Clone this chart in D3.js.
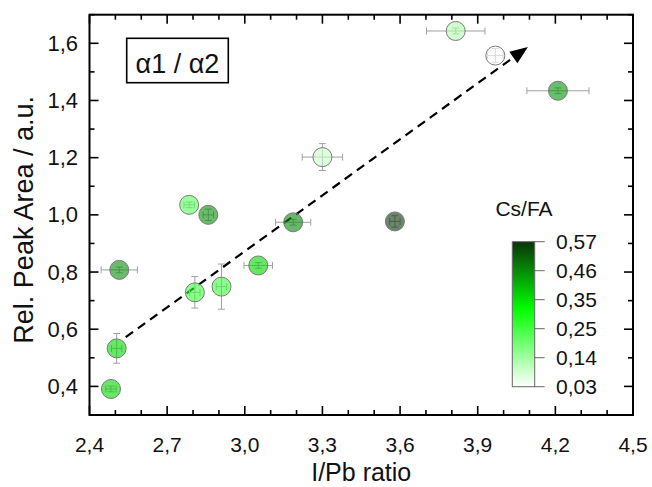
<!DOCTYPE html>
<html>
<head>
<meta charset="utf-8">
<script src="https://cdn.jsdelivr.net/npm/d3@7"></script>
<style>
  html, body { margin: 0; padding: 0; background: #fff; }
  svg { display: block; font-family: "Liberation Sans", Arial, sans-serif; }
</style>
</head>
<body>
<svg id="chart" width="652" height="487"></svg>
<script>
// ---- data ----
const iPb      = [3.815, 3.968, 4.21, 3.30, 2.785, 2.859, 3.187, 3.58, 2.515, 3.052, 2.807, 2.91, 2.505, 2.483];
const peakArea = [1.643, 1.557, 1.434, 1.202, 1.035, 1.00, 0.974, 0.977, 0.8075, 0.823, 0.729, 0.749, 0.533, 0.391];
const csFa     = [0.12, 0.03, 0.45, 0.09, 0.22, 0.46, 0.47, 0.57, 0.46, 0.37, 0.25, 0.25, 0.37, 0.37];
const xErr     = [0.113, 0.03, 0.12, 0.078, 0.02, 0.02, 0.068, 0.02, 0.07, 0.055, 0.02, 0.02, 0.02, 0.02];
const yErr     = [0.01, 0.025, 0.01, 0.047, 0.01, 0.02, 0.01, 0.02, 0.01, 0.01, 0.055, 0.079, 0.052, 0.01];
const xTicks   = [2.4, 2.7, 3.0, 3.3, 3.6, 3.9, 4.2, 4.5];
const yTicks   = [0.4, 0.6, 0.8, 1.0, 1.2, 1.4, 1.6];
const cbTicks  = [0.03, 0.138, 0.246, 0.354, 0.462, 0.57];
const arrowPts = [[2.54, 0.572], [4.094, 1.587]];
const labelText = "α1 / α2";

// ---- layout ----
const svg = d3.select("#chart");
const L = 89.5, R = 633, T = 14.7, B = 415;
const x = d3.scaleLinear().domain([2.4, 4.5]).range([L, R]);
const y = d3.scaleLinear().domain([0.3, 1.7]).range([B, T]);
const color = d3.scaleLinear().domain([0.03, 0.32, 0.57]).range(["#ffffff", "#00ff00", "#0a330a"]);
const fmt = v => d3.format(".1f")(v).replace(".", ",");
const fmt2 = v => d3.format(".2f")(v).replace(".", ",");

const xMinor = d3.range(24, 46).map(v => v / 10);
const yMinor = d3.range(3, 18).map(v => v / 10);

// ticks (inward, all four sides)
const tk = svg.append("g").attr("stroke", "#000").attr("stroke-width", 1.6);
const isMajX = v => xTicks.some(t => Math.abs(t - v) < 1e-6);
const isMajY = v => yTicks.some(t => Math.abs(t - v) < 1e-6);
xMinor.forEach(v => {
  const len = isMajX(v) ? 9 : 5;
  tk.append("line").attr("x1", x(v)).attr("x2", x(v)).attr("y1", B).attr("y2", B - len);
  tk.append("line").attr("x1", x(v)).attr("x2", x(v)).attr("y1", T).attr("y2", T + len);
});
yMinor.forEach(v => {
  const len = isMajY(v) ? 9 : 5;
  tk.append("line").attr("y1", y(v)).attr("y2", y(v)).attr("x1", L).attr("x2", L + len);
  tk.append("line").attr("y1", y(v)).attr("y2", y(v)).attr("x1", R).attr("x2", R - len);
});

// tick labels
svg.append("g").selectAll("text").data(xTicks).join("text")
  .attr("x", d => x(d)).attr("y", 452)
  .attr("text-anchor", "middle").attr("font-size", 21).attr("fill", "#111")
  .text(fmt);
svg.append("g").selectAll("text").data(yTicks).join("text")
  .attr("x", 78).attr("y", d => y(d))
  .attr("text-anchor", "end").attr("dominant-baseline", "central")
  .attr("font-size", 22).attr("fill", "#111")
  .text(fmt);

// axis titles
svg.append("text").attr("x", (L + R) / 2).attr("y", 481)
  .attr("text-anchor", "middle").attr("font-size", 25).attr("fill", "#111")
  .text("I/Pb ratio");
svg.append("text").attr("transform", `translate(33,${(T + B) / 2 + 5}) rotate(-90)`)
  .attr("text-anchor", "middle").attr("font-size", 27).attr("fill", "#111")
  .text("Rel. Peak Area / a.u.");

// dashed arrow
const a0 = [x(arrowPts[0][0]), y(arrowPts[0][1])];
const a1 = [x(arrowPts[1][0]), y(arrowPts[1][1])];
const ang = Math.atan2(a1[1] - a0[1], a1[0] - a0[0]);
const headLen = 18, headW = 7;
const base = [a1[0] - headLen * Math.cos(ang), a1[1] - headLen * Math.sin(ang)];
svg.append("line")
  .attr("x1", a0[0]).attr("y1", a0[1]).attr("x2", base[0]).attr("y2", base[1])
  .attr("stroke", "#000").attr("stroke-width", 2.2).attr("stroke-dasharray", "9,6");
svg.append("path")
  .attr("d", `M${a1[0]},${a1[1]} L${base[0] + headW * Math.sin(ang)},${base[1] - headW * Math.cos(ang)} L${base[0] - headW * Math.sin(ang)},${base[1] + headW * Math.cos(ang)} Z`)
  .attr("fill", "#000");

// error bars
const data = iPb.map((v, i) => ({ x: v, y: peakArea[i], c: csFa[i], dx: xErr[i], dy: yErr[i] }));
const eb = svg.append("g").attr("stroke", "#a0a0a0").attr("stroke-width", 1);
data.forEach(d => {
  const cx = x(d.x), cy = y(d.y);
  const xl = x(d.x - d.dx), xr = x(d.x + d.dx), yt = y(d.y + d.dy), yb = y(d.y - d.dy);
  eb.append("line").attr("x1", xl).attr("x2", xr).attr("y1", cy).attr("y2", cy);
  eb.append("line").attr("x1", xl).attr("x2", xl).attr("y1", cy - 3.5).attr("y2", cy + 3.5);
  eb.append("line").attr("x1", xr).attr("x2", xr).attr("y1", cy - 3.5).attr("y2", cy + 3.5);
  eb.append("line").attr("x1", cx).attr("x2", cx).attr("y1", yt).attr("y2", yb);
  eb.append("line").attr("x1", cx - 3.5).attr("x2", cx + 3.5).attr("y1", yt).attr("y2", yt);
  eb.append("line").attr("x1", cx - 3.5).attr("x2", cx + 3.5).attr("y1", yb).attr("y2", yb);
});

// points
svg.append("g").selectAll("circle").data(data).join("circle")
  .attr("cx", d => x(d.x)).attr("cy", d => y(d.y)).attr("r", 9.5)
  .attr("fill", d => color(d.c)).attr("fill-opacity", 0.6)
  .attr("stroke", "#7a7a7a").attr("stroke-width", 1);

// frame
svg.append("rect").attr("x", L).attr("y", T).attr("width", R - L).attr("height", B - T)
  .attr("fill", "none").attr("stroke", "#000").attr("stroke-width", 2);

// label box
svg.append("rect").attr("x", 126.7).attr("y", 38.3).attr("width", 101.6).attr("height", 44.4)
  .attr("fill", "#fff").attr("stroke", "#000").attr("stroke-width", 1.6);
svg.append("text").attr("x", 177.5).attr("y", 73).attr("text-anchor", "middle")
  .attr("font-size", 27).attr("fill", "#111").text(labelText);

// colour bar
const cbX = 512.3, cbW = 22.4;
const cy2 = d3.scaleLinear().domain([0.03, 0.57]).range([386.7, 241.7]);
const grad = svg.append("defs").append("linearGradient").attr("id", "cbg")
  .attr("x1", 0).attr("y1", 1).attr("x2", 0).attr("y2", 0);
d3.range(0, 1.0001, 0.05).forEach(t => {
  const v = 0.03 + t * 0.54;
  grad.append("stop").attr("offset", t).attr("stop-color", color(v));
});
svg.append("rect").attr("x", cbX).attr("y", cy2(0.57)).attr("width", cbW)
  .attr("height", cy2(0.03) - cy2(0.57))
  .attr("fill", "url(#cbg)").attr("stroke", "#666").attr("stroke-width", 1);
const cbt = svg.append("g");
cbTicks.forEach(v => {
  cbt.append("line").attr("x1", cbX + cbW).attr("x2", cbX + cbW + 10)
    .attr("y1", cy2(v)).attr("y2", cy2(v)).attr("stroke", "#666").attr("stroke-width", 1);
  cbt.append("text").attr("x", 556).attr("y", cy2(v)).attr("dominant-baseline", "central")
    .attr("font-size", 21).attr("fill", "#111").text(fmt2(v));
});
svg.append("text").attr("x", 524).attr("y", 216).attr("text-anchor", "middle")
  .attr("font-size", 21).attr("fill", "#111").text("Cs/FA");
</script>
</body>
</html>
